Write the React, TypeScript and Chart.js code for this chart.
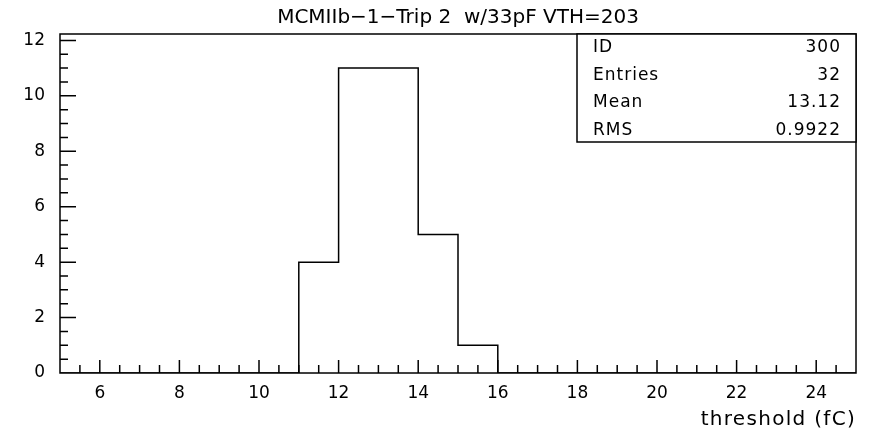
import React, { useEffect, useRef } from 'react';
import { Chart, registerables } from 'chart.js';

Chart.register(...registerables);

// ---- data ----
const titleText = 'MCMIIb\u22121\u2212Trip 2  w/33pF VTH=203';
const xAxisTitle = 'threshold (fC)';
const binEdges = [5, 6, 7, 8, 9, 10, 11, 12, 13, 14, 15, 16, 17, 18, 19, 20, 21, 22, 23, 24, 25];
const binCounts = [0, 0, 0, 0, 0, 0, 4, 11, 11, 5, 1, 0, 0, 0, 0, 0, 0, 0, 0, 0];
const xMajorTicks = [6, 8, 10, 12, 14, 16, 18, 20, 22, 24];
const yMajorTicks = [0, 2, 4, 6, 8, 10, 12];
const xRange = [5, 25];
const yRange = [0, 12.23];
const statLabels = ['ID', 'Entries', 'Mean', 'RMS'];
const statValues = ['300', '32', '13.12', '0.9922'];

const FONT = "'DejaVu Sans', sans-serif";

const rootStylePlugin = {
  id: 'rootStyle',
  afterDraw(chart: any) {
    const { ctx, chartArea } = chart;
    const { left, right, top, bottom } = chartArea;
    const xs = chart.scales.x;
    const ys = chart.scales.y;
    ctx.save();
    ctx.strokeStyle = '#000';
    ctx.lineWidth = 1.5;
    // frame
    ctx.strokeRect(left, top, right - left, bottom - top);
    // inward tick marks
    ctx.beginPath();
    for (let v = xRange[0] + 0.5; v < xRange[1]; v += 0.5) {
      const px = xs.getPixelForValue(v);
      const major = xMajorTicks.includes(v);
      const len = major ? 13 : 8;
      ctx.moveTo(px, bottom);
      ctx.lineTo(px, bottom - len);
    }
    for (let v = yRange[0] + 0.5; v <= yRange[1]; v += 0.5) {
      const py = ys.getPixelForValue(v);
      const major = yMajorTicks.includes(v);
      const len = major ? 16 : 8;
      ctx.moveTo(left, py);
      ctx.lineTo(left + len, py);
    }
    ctx.stroke();

    // title
    ctx.fillStyle = '#000';
    ctx.font = `20px ${FONT}`;
    ctx.textAlign = 'center';
    ctx.textBaseline = 'middle';
    ctx.fillText(titleText, (left + right) / 2, 18);

    // x axis title
    (ctx as any).letterSpacing = '1.3px';
    ctx.textAlign = 'right';
    ctx.fillText(xAxisTitle, right, 420);

    // stats box
    const bx = right - 279;
    const by = top;
    const bw = 279;
    const bh = 108;
    ctx.fillStyle = '#fff';
    ctx.fillRect(bx, by, bw, bh);
    ctx.strokeRect(bx, by, bw, bh);
    ctx.fillStyle = '#000';
    ctx.font = `17px ${FONT}`;
    (ctx as any).letterSpacing = '1px';
    statLabels.forEach((lab, i) => {
      const cy = by + 14 + i * 27.5;
      ctx.textAlign = 'left';
      ctx.fillText(lab, bx + 16, cy);
      ctx.textAlign = 'right';
      ctx.fillText(statValues[i], right - 15, cy);
    });
    ctx.restore();
  },
};

export default function App() {
  const ref = useRef<HTMLCanvasElement | null>(null);
  useEffect(() => {
    if (!ref.current) return;
    // point i holds the count of the bin starting at binEdges[i]; 'before' stepping
    // carries each count horizontally to the next edge
    const data = binEdges.map((e, i) => ({ x: e, y: i < binCounts.length ? binCounts[i] : 0 }));
    const chart = new Chart(ref.current, {
      type: 'line',
      data: {
        datasets: [
          { data, stepped: 'before', borderColor: '#000', borderWidth: 1.5, pointRadius: 0, fill: false },
        ],
      },
      options: {
        responsive: false,
        maintainAspectRatio: false,
        animation: false,
        layout: { padding: { top: 34, right: 13, left: 0, bottom: 0 } },
        plugins: { legend: { display: false }, tooltip: { enabled: false }, title: { display: false } },
        scales: {
          x: {
            type: 'linear',
            min: xRange[0],
            max: xRange[1],
            afterBuildTicks: (s: any) => {
              s.ticks = xMajorTicks.map((v) => ({ value: v }));
            },
            afterFit: (s: any) => {
              s.height = 59;
            },
            grid: { display: false },
            border: { display: false },
            ticks: { color: '#000', font: { family: FONT, size: 17 }, padding: 2, maxRotation: 0, autoSkip: false },
          },
          y: {
            type: 'linear',
            min: yRange[0],
            max: yRange[1],
            afterBuildTicks: (s: any) => {
              s.ticks = yMajorTicks.map((v) => ({ value: v }));
            },
            afterFit: (s: any) => {
              s.width = 60;
            },
            grid: { display: false },
            border: { display: false },
            ticks: { color: '#000', font: { family: FONT, size: 17 }, padding: 7, autoSkip: false },
          },
        },
      },
      plugins: [rootStylePlugin],
    } as any);
    return () => chart.destroy();
  }, []);
  return (
    <div style={{ position: 'absolute', left: 0, top: 0, width: 869, height: 432, background: '#fff' }}>
      <canvas ref={ref} width={869} height={432} style={{ display: 'block' }} />
    </div>
  );
}
